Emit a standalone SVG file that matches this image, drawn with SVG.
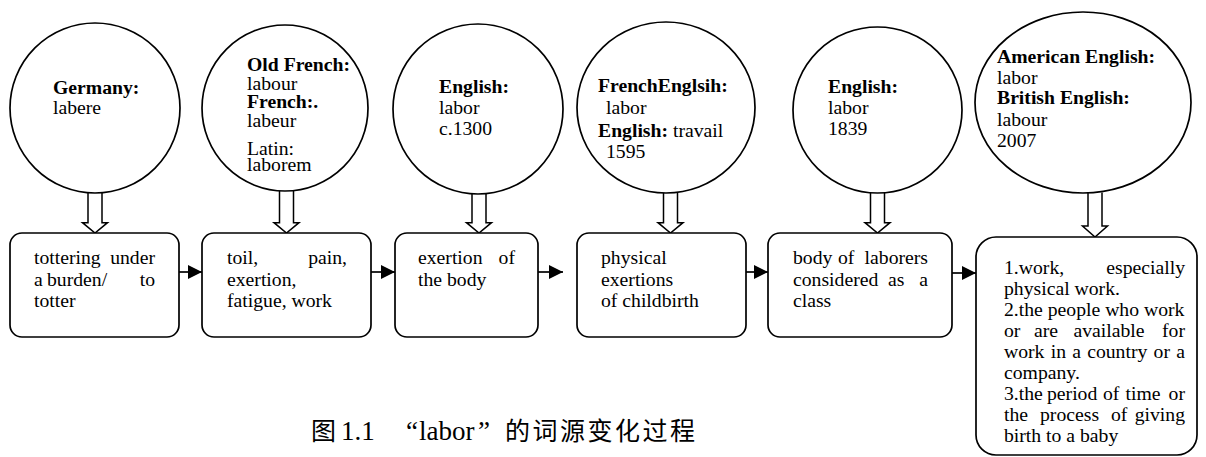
<svg xmlns="http://www.w3.org/2000/svg" width="1206" height="457" viewBox="0 0 1206 457">
<style>
.shape{fill:#fff;stroke:#000;stroke-width:1.7}
.hollow{fill:#fff;stroke:#000;stroke-width:1.5;stroke-linejoin:miter}
.conn{fill:none;stroke:#000;stroke-width:1.7}
text{font-family:'Liberation Serif','DejaVu Serif',serif;font-size:19.7px;font-weight:400;fill:#000}
.b{font-weight:700}
.cap{font-size:27px}
.cjk{font-family:'Liberation Serif','Noto Sans CJK SC',sans-serif;font-size:25px}
</style>
<defs>
<marker id="ah" markerUnits="userSpaceOnUse" markerWidth="14" markerHeight="14" refX="14" refY="7" orient="auto">
<path d="M0,0 L14,7 L0,14 Z" fill="#000"/>
</marker>
</defs>
<rect width="1206" height="457" fill="#fff"/>

<g id="connectors">
<path class="hollow" d="M88,193 V222.7 H82.5 L95,233 L107.5,222.7 H102 V193"/>
<path class="hollow" d="M279.5,191 V222.7 H274 L286.5,233 L299,222.7 H293.5 V191"/>
<path class="hollow" d="M472,194 V222.7 H466.5 L479,233 L491.5,222.7 H486 V194"/>
<path class="hollow" d="M663.5,193 V222.7 H658 L670.5,233 L683,222.7 H677.5 V193"/>
<path class="hollow" d="M870.5,193 V222.7 H865 L877.5,233 L890,222.7 H884.5 V193"/>
<path class="hollow" d="M1088,192.4 V226 H1082.5 L1095,237 L1107.5,226 H1102 V192.4"/>
<line class="conn" x1="179" y1="272" x2="202" y2="272" marker-end="url(#ah)"/>
<line class="conn" x1="371" y1="272" x2="395" y2="272" marker-end="url(#ah)"/>
<line class="conn" x1="538" y1="272" x2="563" y2="272" marker-end="url(#ah)"/>
<line class="conn" x1="746" y1="272" x2="768" y2="272" marker-end="url(#ah)"/>
<line class="conn" x1="952" y1="273" x2="976" y2="273" marker-end="url(#ah)"/>
</g>

<g id="c1">
<circle class="shape" cx="95" cy="108" r="85"/>
<text x="53" y="94" class="b">Germany:</text>
<text x="53" y="114">labere</text>
</g>
<g id="c2">
<circle class="shape" cx="285" cy="108" r="83"/>
<text x="247" y="71" class="b">Old French:</text>
<text x="247" y="89.5">labour</text>
<text x="247" y="108" class="b">French:.</text>
<text x="247" y="127">labeur</text>
<text x="247" y="155">Latin:</text>
<text x="247" y="171">laborem</text>
</g>
<g id="c3">
<circle class="shape" cx="478" cy="109" r="85"/>
<text x="439" y="93" class="b">English:</text>
<text x="439" y="114">labor</text>
<text x="439" y="135">c.1300</text>
</g>
<g id="c4">
<ellipse class="shape" cx="666" cy="107.5" rx="89" ry="85.5"/>
<text x="598" y="92" class="b">FrenchEnglsih:</text>
<text x="606" y="114">labor</text>
<text x="598" y="137"><tspan class="b">English:</tspan> travail</text>
<text x="606" y="158">1595</text>
</g>
<g id="c5">
<ellipse class="shape" cx="877.5" cy="110" rx="84.5" ry="83"/>
<text x="828" y="93" class="b">English:</text>
<text x="828" y="114">labor</text>
<text x="828" y="135">1839</text>
</g>
<g id="c6">
<ellipse class="shape" cx="1083" cy="102.5" rx="108" ry="90.5"/>
<text x="997" y="62.5" class="b">American English:</text>
<text x="997" y="83.5">labor</text>
<text x="997" y="104" class="b">British English:</text>
<text x="997" y="126">labour</text>
<text x="997" y="147">2007</text>
</g>

<g id="b1">
<rect class="shape" x="10" y="233" width="169" height="104" rx="12"/>
<text x="34" y="264">tottering</text>
<text x="155" y="264" text-anchor="end">under</text>
<text x="34" y="285.5">a</text>
<text x="47" y="285.5">burden/</text>
<text x="155" y="285.5" text-anchor="end">to</text>
<text x="34" y="307">totter</text>
</g>
<g id="b2">
<rect class="shape" x="202" y="233" width="169" height="104" rx="12"/>
<text x="227" y="264">toil,</text>
<text x="347" y="264" text-anchor="end">pain,</text>
<text x="227" y="285.5">exertion,</text>
<text x="227" y="307">fatigue, work</text>
</g>
<g id="b3">
<rect class="shape" x="395" y="233" width="143" height="104" rx="12"/>
<text x="418" y="264">exertion</text>
<text x="515" y="264" text-anchor="end">of</text>
<text x="418" y="285.5">the body</text>
</g>
<g id="b4">
<rect class="shape" x="577" y="233" width="169" height="104" rx="12"/>
<text x="601" y="264">physical</text>
<text x="601" y="285.5">exertions</text>
<text x="601" y="307">of childbirth</text>
</g>
<g id="b5">
<rect class="shape" x="768" y="233" width="184" height="104" rx="12"/>
<text x="793" y="264">body</text>
<text x="838" y="264">of</text>
<text x="928" y="264" text-anchor="end">laborers</text>
<text x="793" y="285.5">considered</text>
<text x="888" y="285.5">as</text>
<text x="928" y="285.5" text-anchor="end">a</text>
<text x="793" y="307">class</text>
</g>
<g id="b6">
<rect class="shape" x="976" y="237" width="221" height="218" rx="20"/>
<text x="1004" y="274">1.work,</text>
<text x="1185" y="274" text-anchor="end">especially</text>
<text x="1004" y="295">physical work.</text>
<text x="1004" y="316">2.the people who work</text>
<text x="1004" y="337">or</text>
<text x="1034" y="337">are</text>
<text x="1073.5" y="337">available</text>
<text x="1185" y="337" text-anchor="end">for</text>
<text x="1004" y="358">work</text>
<text x="1050.7" y="358">in</text>
<text x="1072.2" y="358">a</text>
<text x="1087.2" y="358">country</text>
<text x="1153.6" y="358">or</text>
<text x="1185" y="358" text-anchor="end">a</text>
<text x="1004" y="379">company.</text>
<text x="1004" y="400">3.the</text>
<text x="1047" y="400">period</text>
<text x="1103" y="400">of</text>
<text x="1125.5" y="400">time</text>
<text x="1185" y="400" text-anchor="end">or</text>
<text x="1004" y="421">the</text>
<text x="1040" y="421">process</text>
<text x="1111" y="421">of</text>
<text x="1185" y="421" text-anchor="end">giving</text>
<text x="1004" y="442">birth to a baby</text>
</g>

<g id="caption">
<text y="440" class="cap"><tspan x="311" class="cjk">图</tspan><tspan x="341">1.1</tspan><tspan x="406">“</tspan><tspan x="419">labor</tspan><tspan x="478">”</tspan><tspan x="505" class="cjk" letter-spacing="2.5">的词源变化过程</tspan></text>
</g>
</svg>
